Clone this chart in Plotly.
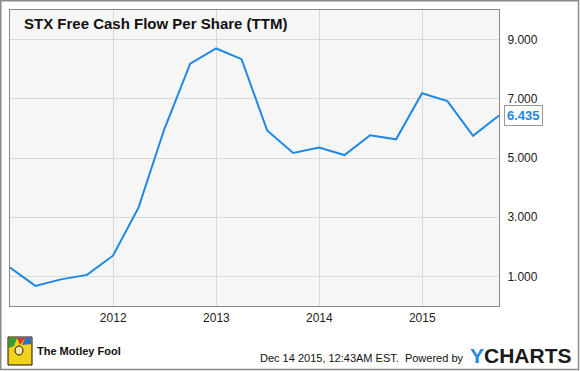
import plotly.graph_objects as go

dates = ["2010-12-31", "2011-03-31", "2011-06-30", "2011-09-30", "2011-12-31",
         "2012-03-31", "2012-06-30", "2012-09-30", "2012-12-31",
         "2013-03-31", "2013-06-30", "2013-09-30", "2013-12-31",
         "2014-03-31", "2014-06-30", "2014-09-30", "2014-12-31",
         "2015-03-31", "2015-06-30", "2015-09-30"]
fcf_per_share = [1.30, 0.68, 0.90, 1.05, 1.70,
                 3.33, 5.97, 8.19, 8.70,
                 8.34, 5.93, 5.17, 5.35,
                 5.10, 5.77, 5.63, 7.19,
                 6.92, 5.75, 6.435]
y_ticks = [1, 3, 5, 7, 9]
x_ticks = ["2012-01-01", "2013-01-01", "2014-01-01", "2015-01-01"]
x_tick_labels = ["2012", "2013", "2014", "2015"]
title_text = "STX Free Cash Flow Per Share (TTM)"
last_label = "6.435"

BLUE = "#1e88e5"
W, H = 580, 371
ML, MR, MT, MB = 10, 81, 10, 65
PW = W - ML - MR
PH = H - MT - MB


def px(x):
    return (x - ML) / PW


def py(y):
    return (H - MB - y) / PH


fig = go.Figure()
fig.add_trace(go.Scatter(x=dates, y=fcf_per_share, mode="lines",
                         line=dict(color=BLUE, width=2), hoverinfo="skip",
                         showlegend=False))

fig.update_layout(
    width=W, height=H, autosize=False,
    margin=dict(l=ML, r=MR, t=MT, b=MB, pad=0),
    paper_bgcolor="white", plot_bgcolor="#f6f6f6",
    font=dict(family="Liberation Sans, Arial, sans-serif", size=12, color="#333"),
    xaxis=dict(range=[dates[0], dates[-1]], tickvals=x_ticks, ticktext=x_tick_labels,
               showgrid=True, gridcolor="#d9d9d9", gridwidth=1, zeroline=False,
               showline=True, linecolor="#888", linewidth=1, mirror=True,
               ticks="", ticklabelstandoff=1, tickfont=dict(size=12, color="#222")),
    yaxis=dict(range=[0, 10], tickvals=y_ticks, tickformat=".3f", side="right",
               showgrid=True, gridcolor="#d9d9d9", gridwidth=1, zeroline=False,
               showline=True, linecolor="#888", linewidth=1, mirror=True,
               ticks="", ticklabelstandoff=5, tickfont=dict(size=12, color="#222")),
    hovermode=False,
)

annotations = [
    dict(text="<b>" + title_text + "</b>", x=px(22), y=py(24), xref="paper", yref="paper",
         xanchor="left", yanchor="middle", showarrow=False,
         font=dict(size=15, color="#111", family="Liberation Sans, Arial, sans-serif")),
    dict(text="<b>" + last_label + "</b>", x=1, y=fcf_per_share[-1], xref="paper", yref="y",
         xanchor="left", yanchor="middle", xshift=5, showarrow=False,
         bgcolor="white", bordercolor="#999", borderwidth=1, borderpad=2,
         font=dict(size=13, color=BLUE)),
    dict(text="<b>The Motley Fool</b>", x=px(35), y=py(351), xref="paper", yref="paper",
         xanchor="left", yanchor="middle", showarrow=False,
         font=dict(size=11, color="#111", family="Liberation Sans, Arial")),
    dict(text="Dec 14 2015, 12:43AM EST.  Powered by", x=px(466), y=py(358), xref="paper",
         yref="paper", xanchor="right", yanchor="middle", showarrow=False,
         font=dict(size=11, color="#111")),
    dict(text="<b><span style='color:#1e88e5'>Y</span>CHARTS</b>", x=px(468), y=py(355),
         xref="paper", yref="paper", xanchor="left", yanchor="middle", showarrow=False,
         font=dict(size=21, color="#1a1a1a", family="Liberation Sans, Arial")),
]
fig.update_layout(annotations=annotations)

shapes = [
    # outer frame
    dict(type="rect", xref="paper", yref="paper", x0=px(0.75), x1=px(578.5),
         y0=py(369.5), y1=py(0.75), line=dict(color="#8a8a8a", width=1.5),
         fillcolor="rgba(0,0,0,0)", layer="above"),
    # Motley Fool logo (simplified jester)
    dict(type="rect", xref="paper", yref="paper", x0=px(8), x1=px(32), y0=py(365), y1=py(337),
         fillcolor="#f3d21a", line=dict(color="#111", width=1)),
    dict(type="path", xref="paper", yref="paper",
         path=f"M {px(9)},{py(338)} L {px(17)},{py(338)} L {px(14)},{py(346)} L {px(9)},{py(348)} Z",
         fillcolor="#2e9d3a", line=dict(width=0)),
    dict(type="path", xref="paper", yref="paper",
         path=f"M {px(17)},{py(338)} L {px(25)},{py(338)} L {px(20)},{py(345)} Z",
         fillcolor="#d83a2a", line=dict(width=0)),
    dict(type="path", xref="paper", yref="paper",
         path=f"M {px(25)},{py(338)} L {px(31)},{py(338)} L {px(31)},{py(344)} L {px(22)},{py(345)} Z",
         fillcolor="#2a6fd0", line=dict(width=0)),
    dict(type="circle", xref="paper", yref="paper", x0=px(15), x1=px(23), y0=py(355), y1=py(346),
         fillcolor="#f7e6b0", line=dict(color="#111", width=1)),
]
fig.update_layout(shapes=shapes)

fig.write_html("out.html", config={"displayModeBar": False, "staticPlot": True},
               post_script="document.body.style.margin='0';document.body.style.overflow='hidden';")
